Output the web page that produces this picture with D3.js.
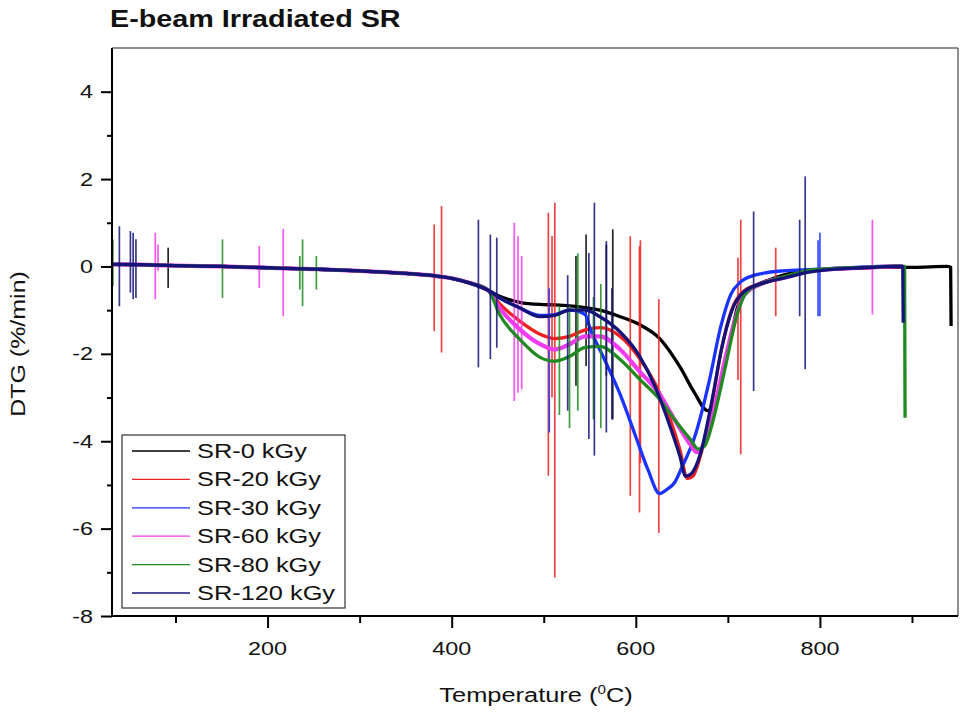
<!DOCTYPE html>
<html><head><meta charset="utf-8">
<script src="https://cdn.jsdelivr.net/npm/d3@7"></script>
<style>body{margin:0;background:#fff}svg{display:block}</style>
</head><body><svg id="c" width="961" height="713"></svg>
<script>
// ---------------- DATA ----------------
const seriesNames = ["SR-0 kGy","SR-20 kGy","SR-30 kGy","SR-60 kGy","SR-80 kGy","SR-120 kGy"];
const seriesColors = ["#000000","#ee2222","#1a33ff","#ee3cee","#1f8a1f","#141478"];
const xTicksMajor = [200,400,600,800];
const xTicksMinor = [100,300,500,700,900];
const yTicksMajor = [-8,-6,-4,-2,0,2,4];
const yTicksMinor = [-7,-5,-3,-1,1,3];

// common baseline (all samples overlap below ~440 °C): [T, DTG]
const baseline = [[31,0.05],[60,0.04],[100,0.02],[150,0.0],[200,-0.03],[250,-0.06],[300,-0.1],[350,-0.16],[380,-0.21],[400,-0.27],[420,-0.38],[440,-0.55]];

const sr0 = [[452,-0.68],[474,-0.82],[496,-0.87],[512,-0.88],[528,-0.9],[545,-0.94],[561,-1.0],[583,-1.15],[604,-1.33],[626,-1.65],[648,-2.3],[664,-2.9],[678,-3.3],[686,-3.15],[693,-2.6],[702,-1.75],[711,-0.9],[724,-0.53],[746,-0.3],[778,-0.12],[800,-0.08],[829,-0.05],[865,-0.02],[901,-0.02],[938,0.0],[942,-0.02],[942.5,-1.36]];
const sr20 = [[452,-0.85],[474,-1.25],[496,-1.55],[512,-1.65],[528,-1.6],[545,-1.45],[561,-1.4],[583,-1.6],[604,-2.1],[626,-2.9],[648,-4.2],[656,-4.85],[662,-4.8],[670,-4.35],[683,-3.1],[693,-1.9],[704,-1.0],[718,-0.55],[740,-0.37],[764,-0.24],[785,-0.12],[811,-0.06],[847,-0.03],[883,0.0],[890,0.0]];
const sr30 = [[452,-0.72],[474,-0.95],[496,-1.12],[512,-1.1],[528,-1.0],[545,-1.1],[550,-1.4],[566,-2.13],[583,-2.93],[599,-3.84],[613,-4.64],[626,-5.2],[634,-5.1],[642,-4.95],[650,-4.6],[664,-3.9],[680,-2.6],[692,-1.4],[703,-0.65],[714,-0.35],[729,-0.2],[760,-0.1],[793,-0.07],[829,-0.03],[865,0.0],[890,0.0]];
const sr60 = [[452,-0.95],[474,-1.44],[496,-1.78],[512,-1.9],[528,-1.78],[545,-1.6],[561,-1.6],[583,-1.9],[604,-2.4],[626,-2.93],[642,-3.5],[659,-4.07],[666,-4.25],[672,-4.15],[680,-3.7],[689,-2.9],[697,-2.13],[708,-1.21],[718,-0.64],[735,-0.41],[764,-0.24],[785,-0.12],[811,-0.06],[847,-0.03],[883,0.0],[890,0.0]];
const sr80 = [[452,-1.1],[474,-1.67],[496,-2.08],[512,-2.17],[528,-2.06],[545,-1.85],[561,-1.83],[583,-2.13],[604,-2.58],[626,-3.04],[642,-3.5],[659,-3.95],[668,-4.18],[675,-4.1],[683,-3.6],[691,-2.9],[699,-2.13],[710,-1.1],[721,-0.57],[735,-0.41],[764,-0.22],[785,-0.1],[811,-0.05],[847,-0.02],[883,0.01],[892,0.0],[892.5,-3.46]];
const sr120 = [[452,-0.72],[474,-0.95],[496,-1.15],[512,-1.12],[528,-1.0],[545,-1.0],[561,-1.15],[583,-1.5],[604,-2.05],[621,-2.75],[637,-3.65],[648,-4.35],[654,-4.8],[660,-4.75],[670,-4.3],[683,-3.04],[693,-1.9],[704,-1.03],[718,-0.57],[740,-0.37],[764,-0.25],[785,-0.14],[811,-0.07],[847,-0.03],[883,0.0],[890,0.0],[890.5,-1.29]];

// instrument spikes: [T, top, bottom]
const spikes0 = [[92,0.43,-0.49],[535,0.24,-2.73],[546,0.73,-2.28],[568,0.5,-2.5],[575,0.85,-3.5]];
const spikes20 = [[31,-0.1,-1.67],[381,0.96,-1.48],[389,1.38,-1.97],[505,1.23,-4.79],[509,0.7,-3.0],[512,1.46,-7.12],[594,0.69,-5.25],[604,0.46,-5.63],[605,0.6,-4.5],[625,-0.75,-6.1],[711,0.2,-2.6],[714,1.07,-4.3],[752,0.43,-1.14]];
const spikes30 = [[506,-0.5,-3.8],[798,0.6,-1.14],[800,0.77,-1.14]];
const spikes60 = [[78,0.77,-0.75],[81,0.5,-0.1],[191,0.47,-0.49],[217,0.86,-1.14],[468,1.0,-3.08],[472,0.69,-2.89],[476,0.24,-2.81],[857,1.07,-1.1]];
const spikes80 = [[32,0.62,-0.45],[151,0.62,-0.72],[235,0.24,-0.53],[238,0.62,-0.91],[253,0.24,-0.53],[517,-0.9,-3.4],[528,-0.9,-3.7],[537,0.3,-3.3],[554,-0.7,-3.5],[562,-0.4,-3.7]];
const spikes120 = [[39,0.92,-0.91],[51,0.81,-0.6],[54,0.77,-0.75],[57,0.62,-0.72],[429,1.07,-2.31],[442,0.73,-2.12],[449,0.66,-1.86],[526,-0.2,-3.3],[549,0.31,-3.95],[555,1.46,-4.33],[568,0.58,-3.8],[574,-0.5,-3.5],[728,1.26,-2.85],[778,1.07,-1.14],[784,2.06,-2.35]];

const curves = [sr0,sr20,sr30,sr60,sr80,sr120];
const spikeSets = [spikes0,spikes20,spikes30,spikes60,spikes80,spikes120];

// ---------------- DRAW ----------------
const svg = d3.select("#c");
const L = 112, R = 958, T = 48, B = 616;
const x = d3.scaleLinear().domain([31, 950]).range([L, R]);
const y = d3.scaleLinear().domain([-8, 5]).range([B, T]);
const FONT = "'Liberation Sans', Arial, sans-serif";

function stext(g, px, py, str, o) {
  const t = g.append("text")
    .attr("transform", `translate(${px},${py}) scale(${o.sx||1.3},1)`)
    .attr("text-anchor", o.anchor || "start")
    .attr("font-family", FONT).attr("font-size", o.size)
    .attr("font-weight", o.weight || "normal").attr("fill", "#111");
  t.text(str);
  return t;
}

svg.append("defs").append("clipPath").attr("id","clip")
  .append("rect").attr("x", L).attr("y", T).attr("width", R-L).attr("height", B-T);

const plot = svg.append("g").attr("clip-path","url(#clip)");
const line = d3.line().x(d => x(d[0])).y(d => y(d[1])).curve(d3.curveMonotoneX);

curves.forEach((c, i) => {
  const g = plot.append("g");
  g.selectAll("line").data(spikeSets[i]).join("line")
    .attr("x1", d => x(d[0])).attr("x2", d => x(d[0]))
    .attr("y1", d => y(d[1])).attr("y2", d => y(d[2]))
    .attr("stroke", seriesColors[i]).attr("stroke-width", 1.7).attr("stroke-opacity", 0.85);
  g.append("path").datum(baseline.concat(c)).attr("d", line)
    .attr("fill","none").attr("stroke", seriesColors[i])
    .attr("stroke-width", i === 3 ? 4.2 : 3.3).attr("stroke-linejoin","round");
});

// frame: top & right thin grey
svg.append("line").attr("x1", L).attr("x2", R).attr("y1", T).attr("y2", T).attr("stroke","#6b6b6b").attr("stroke-width",1.5);
svg.append("line").attr("x1", R).attr("x2", R).attr("y1", T).attr("y2", B).attr("stroke","#6b6b6b").attr("stroke-width",1.5);

// axes
const xAxisG = svg.append("g").attr("transform", `translate(0,${B})`);
xAxisG.call(d3.axisBottom(x).tickValues(xTicksMajor).tickSize(12).tickFormat(""));
const xMinorG = svg.append("g").attr("transform", `translate(0,${B})`);
xMinorG.call(d3.axisBottom(x).tickValues(xTicksMinor).tickSize(7).tickFormat(""));
const yAxisG = svg.append("g").attr("transform", `translate(${L},0)`);
yAxisG.call(d3.axisLeft(y).tickValues(yTicksMajor).tickSize(11).tickFormat(""));
const yMinorG = svg.append("g").attr("transform", `translate(${L},0)`);
yMinorG.call(d3.axisLeft(y).tickValues(yTicksMinor).tickSize(5).tickFormat(""));
[xAxisG, xMinorG, yAxisG, yMinorG].forEach(g => {
  g.selectAll("path.domain").attr("stroke","#000").attr("stroke-width",2);
  g.selectAll(".tick line").attr("stroke","#000").attr("stroke-width",2);
});
xMinorG.select("path.domain").remove(); yMinorG.select("path.domain").remove();
yAxisG.select("path.domain").attr("d", `M0,${T}V${B}`);
xAxisG.select("path.domain").attr("d", `M${L},0H${R}`);

// tick labels
const lab = svg.append("g");
xTicksMajor.forEach(v => stext(lab, x(v), 655, String(v), {size: 18, anchor: "middle", sx: 1.3}));
yTicksMajor.forEach(v => stext(lab, 93, y(v) + 6.5, String(v), {size: 18, anchor: "end", sx: 1.3}));

// title
stext(svg, 110, 27, "E-beam Irradiated SR", {size: 23, weight: "bold", sx: 1.25});

// axis titles
const xt = svg.append("text")
  .attr("transform", `translate(536,702) scale(1.27,1)`)
  .attr("text-anchor","middle").attr("font-family", FONT).attr("font-size", 20).attr("fill","#111");
xt.append("tspan").text("Temperature (");
xt.append("tspan").attr("font-size", 12).attr("dy", -8).text("0");
xt.append("tspan").attr("dy", 8).text("C)");

svg.append("text")
  .attr("transform", `translate(25,344) rotate(-90) scale(1.25,1)`)
  .attr("text-anchor","middle").attr("font-family", FONT).attr("font-size", 20).attr("fill","#111")
  .text("DTG (%/min)");

// legend
const lg = svg.append("g");
lg.append("rect").attr("x",122).attr("y",435).attr("width",223).attr("height",173)
  .attr("fill","#fff").attr("stroke","#333").attr("stroke-width",1.2);
seriesNames.forEach((n, i) => {
  const yy = 451 + i * 28.4;
  lg.append("line").attr("x1",132).attr("x2",190).attr("y1",yy).attr("y2",yy)
    .attr("stroke", seriesColors[i]).attr("stroke-width",1.3);
  stext(lg, 197, yy + 7, n, {size: 19.5, sx: 1.3});
});
</script></body></html>
